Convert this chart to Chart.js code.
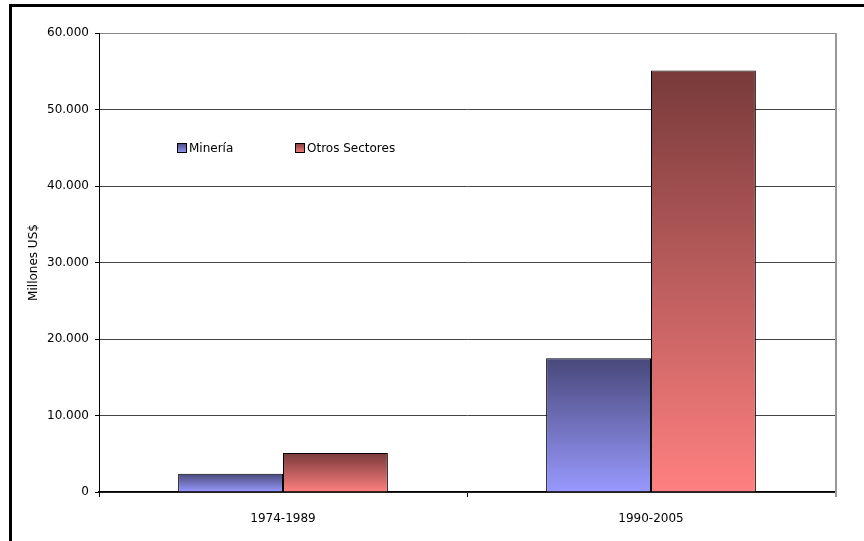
<!DOCTYPE html>
<html>
<head>
<meta charset="utf-8">
<script src="https://cdn.jsdelivr.net/npm/chart.js@4/dist/chart.umd.min.js"></script>
<style>
    html, body { margin: 0; padding: 0; background: #fff; }
    #wrap { position: relative; width: 864px; height: 541px; overflow: hidden; }
    #frame { position: absolute; left: 9px; top: 4px; width: 900px; height: 600px; border: 3px solid #000; box-sizing: border-box; }
    canvas { position: absolute; left: 0; top: 0; }
</style>
</head>
<body>
<div id="wrap">
    <div id="frame"></div>
    <canvas id="chart1" width="864" height="541"></canvas>
</div>
<script>
const periodos = ["1974-1989", "1990-2005"];
const mineria = [2400, 17500];
const otrosSectores = [5100, 55100];
const yTicks = [0, 10000, 20000, 30000, 40000, 50000, 60000];

const fuente = "'DejaVu Sans', Verdana, sans-serif";

// degradado vertical por barra: oscuro arriba, claro abajo
function degradado(arriba, abajo) {
    return (ctx) => {
        const chart = ctx.chart;
        if (!chart.chartArea || ctx.type !== 'data') return abajo;
        const y = chart.scales.y;
        const top = y.getPixelForValue(ctx.raw);
        const base = y.getPixelForValue(0);
        if (!isFinite(top) || base - top < 1) return abajo;
        const g = chart.ctx.createLinearGradient(0, top, 0, base);
        g.addColorStop(0, arriba);
        g.addColorStop(1, abajo);
        return g;
    };
}

const colores = [
    { arriba: "#48487a", abajo: "#9999ff" },
    { arriba: "#783a3a", abajo: "#ff8080" },
];

// leyenda dentro del área del gráfico
const leyenda = {
    id: 'leyenda',
    afterDraw(chart) {
        const c = chart.ctx;
        const a = chart.chartArea;
        const posX = [a.left + 78, a.left + 196];
        const y = a.top + 110;
        c.save();
        c.font = "12px " + fuente;
        c.textBaseline = 'middle';
        chart.data.datasets.forEach((ds, i) => {
            const x = posX[i];
            const g = c.createLinearGradient(0, y, 0, y + 10);
            g.addColorStop(0, colores[i].arriba);
            g.addColorStop(1, colores[i].abajo);
            c.fillStyle = g;
            c.fillRect(x, y, 10, 10);
            c.strokeStyle = '#000';
            c.lineWidth = 1;
            c.strokeRect(x + 0.5, y + 0.5, 9, 9);
            c.fillStyle = '#000';
            c.fillText(ds.label, x + 12, y + 5.5);
        });
        c.restore();
    }
};

// borde derecho del área de trazado
const bordeDerecho = {
    id: 'bordeDerecho',
    beforeDatasetsDraw(chart) {
        const c = chart.ctx;
        const a = chart.chartArea;
        c.save();
        c.strokeStyle = '#999';
        c.lineWidth = 2;
        c.beginPath();
        c.moveTo(a.right + 1, a.top);
        c.lineTo(a.right + 1, a.bottom + 5);
        c.stroke();
        c.restore();
    }
};

var ctx1 = document.getElementById("chart1").getContext("2d");
var chart1 = new Chart(ctx1, {
    type: "bar",
    data: {
        labels: periodos,
        datasets: [
            {
                label: "Minería",
                data: mineria,
                backgroundColor: degradado(colores[0].arriba, colores[0].abajo),
                borderColor: "#000",
                borderWidth: 1,
            },
            {
                label: "Otros Sectores",
                data: otrosSectores,
                backgroundColor: degradado(colores[1].arriba, colores[1].abajo),
                borderColor: "#000",
                borderWidth: 1,
            },
        ],
    },
    options: {
        responsive: false,
        animation: false,
        devicePixelRatio: 1,
        layout: { padding: { left: 27, top: 33, right: 29, bottom: 0 } },
        datasets: {
            bar: { categoryPercentage: 0.57, barPercentage: 1.0 }
        },
        plugins: {
            legend: { display: false },
            tooltip: { enabled: false },
        },
        scales: {
            x: {
                offset: true,
                afterFit: (s) => { s.height = 49; },
                grid: {
                    offset: true,
                    drawOnChartArea: false,
                    drawTicks: true,
                    tickLength: 5,
                    color: '#000',
                },
                border: { color: '#000', width: 1.5 },
                ticks: {
                    color: '#000',
                    padding: 15,
                    font: { family: fuente, size: 12 },
                },
            },
            y: {
                min: 0,
                max: 60000,
                afterFit: (s) => { s.width = 72; },
                afterBuildTicks: (s) => { s.ticks = yTicks.map(v => ({ value: v })); },
                grid: {
                    color: (c) => c.tick && c.tick.value === 60000 ? '#888' : '#444',
                    lineWidth: 1,
                    tickLength: 4,
                    tickColor: '#000',
                },
                border: { color: '#000', width: 1 },
                ticks: {
                    color: '#000',
                    padding: 6,
                    font: { family: fuente, size: 12 },
                    callback: (v) => v === 0 ? '0' : v.toLocaleString('es-ES', { minimumFractionDigits: 0 }).replace(/\s/g, '.').replace(',', '.'),
                },
                title: {
                    display: true,
                    text: "Millones US$",
                    color: '#000',
                    font: { family: fuente, size: 12 },
                    padding: { top: 0, bottom: 4 },
                },
            },
        },
    },
    plugins: [leyenda, bordeDerecho],
});
</script>
</body>
</html>
